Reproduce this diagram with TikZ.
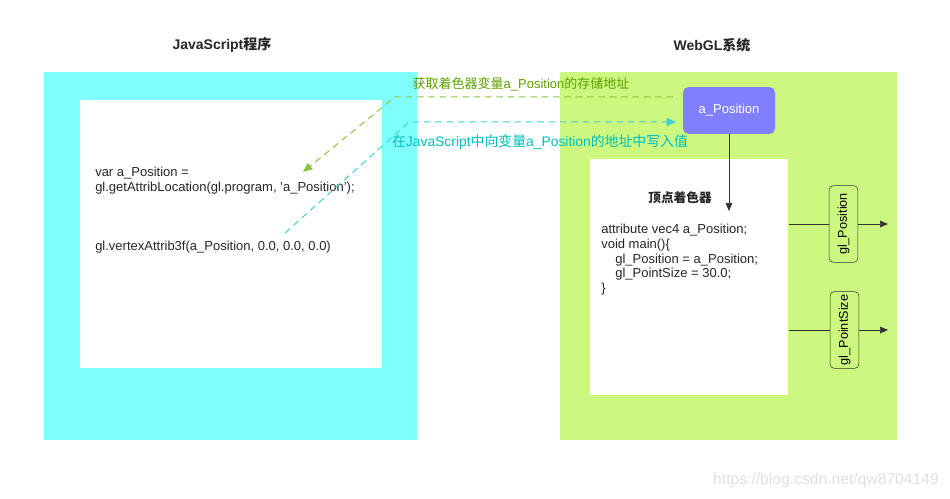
\documentclass[tikz,border=0pt]{standalone}
\usepackage{fontspec}
\setmainfont{Liberation Sans}
\newfontfamily\cjk{Noto Sans CJK SC}
\usetikzlibrary{positioning, arrows.meta}

\definecolor{jscyan}{RGB}{128,255,255}
\definecolor{glgreen}{RGB}{204,248,128}
\definecolor{attrblue}{RGB}{128,128,255}
\definecolor{getgreen}{RGB}{102,178,0}
\definecolor{setcyan}{RGB}{0,190,190}
\definecolor{linegray}{RGB}{51,51,51}

\begin{document}
\begin{tikzpicture}[x=0.75pt, y=-0.75pt,
    frame/.style={anchor=north west, inner sep=0pt, draw=none},
    code/.style={anchor=north west, inner sep=0pt, align=left, text=black!85, font=\fontsize{9.75}{11}\selectfont},
    title/.style={font=\fontsize{10.5}{12}\selectfont\bfseries, text=black!85},
    outbox/.style={draw=linegray, rounded corners=3pt, rotate=90, inner sep=0pt,
        minimum width=57.5pt, minimum height=21.5pt, font=\fontsize{9.5}{11}\selectfont},
    flow/.style={draw=linegray, -{Triangle[length=6pt, width=5pt]}},
    msg/.style={dashed, dash pattern=on 5pt off 3.5pt, line width=0.75pt,
        -{Triangle[length=7pt, width=6pt]}},
    msglabel/.style={font=\fontsize{9.75}{11}\selectfont, inner sep=0pt}]
    \useasboundingbox (0,0) rectangle (950,499);

    % JavaScript side
    \node[frame, fill=jscyan, minimum width=279.75pt, minimum height=276pt] (jsframe) at (44,72) {};
    \node[frame, fill=white, minimum width=226.5pt, minimum height=201pt] (jsinner) at (80,100) {};
    \node[title] (jstitle) at (222,45) {JavaScript{\cjk\bfseries 程序}};
    \node[code] (jsget) at (95,167) {var a\_Position =\\gl.getAttribLocation(gl.program, 'a\_Position');};
    \node[code] (jsset) at (95,241) {gl.vertexAttrib3f(a\_Position, 0.0, 0.0, 0.0)};

    % WebGL side
    \node[frame, fill=glgreen, minimum width=252.75pt, minimum height=276pt] (glframe) at (560,72) {};
    \node[frame, fill=white, minimum width=148.5pt, minimum height=177pt] (shader) at (590,159) {};
    \node[title] (gltitle) at (712,45) {WebGL{\cjk\bfseries 系统}};
    \node[font=\fontsize{9.5}{11}\selectfont\cjk\bfseries, text=black!85] (shadertitle) at (680,198) {顶点着色器};
    \node[code] (shadercode) at (601,224) {attribute vec4 a\_Position;\\void main()\{\\
        \hspace*{10.5pt}gl\_Position = a\_Position;\\
        \hspace*{10.5pt}gl\_PointSize = 30.0;\\\}};

    % attribute variable
    \node[fill=attrblue, rounded corners=4pt, text=white, minimum width=69pt, minimum height=35pt,
        inner sep=0pt, font=\fontsize{9.75}{11}\selectfont] (attr) at (729,110.5) {a\_Position};
    \coordinate (attrend) at (729,211);
    \draw[flow] (attr) -- (attrend);

    % built-in outputs
    \node[outbox] (gpos) at (843.5,224) {gl\_Position};
    \node[outbox] (gsize) at (844.5,330) {gl\_PointSize};
    \coordinate (gposend) at (888,224);
    \coordinate (gsizeend) at (888,330);
    \draw[draw=linegray] (gpos -| shader.east) -- (gpos);
    \draw[flow] (gpos) -- (gposend);
    \draw[draw=linegray] (gsize -| shader.east) -- (gsize);
    \draw[flow] (gsize) -- (gsizeend);

    % getting the location
    \coordinate (getstart) at (673,97);
    \coordinate (getbend) at (395,97);
    \coordinate (getend) at (303,172);
    \draw[msg, draw=getgreen!75] (getstart) -- (getbend) -- (getend);
    \node[msglabel, text=getgreen!90!black] (getlabel) at (521,84)
        {{\cjk 获取着色器变量}a\_Position{\cjk 的存储地址}};

    % writing the value
    \coordinate (setstart) at (285,233);
    \coordinate (setbend) at (409,122);
    \coordinate (setend) at (676,122);
    \draw[msg, draw=setcyan!75] (setstart) -- (setbend) -- (setend);
    \node[msglabel, text=setcyan, font=\fontsize{10.4}{12}\selectfont] (setlabel) at (540,142)
        {{\cjk 在}JavaScript{\cjk 中向变量}a\_Position{\cjk 的地址中写入值}};

    % watermark
    \node[font=\fontsize{11.75}{13}\selectfont, text=black!12] (mark) at (826,480) {https://blog.csdn.net/qw8704149};
\end{tikzpicture}
\end{document}
